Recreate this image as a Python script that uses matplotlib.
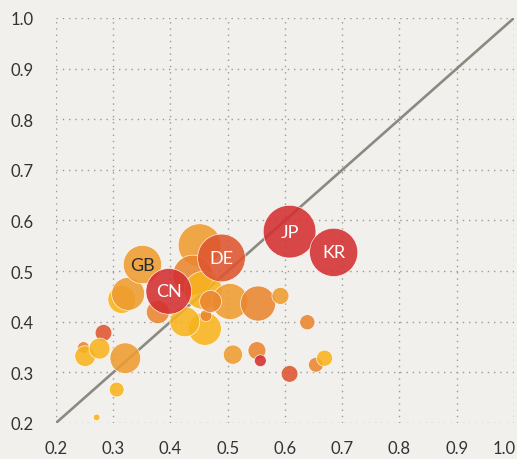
import matplotlib.pyplot as plt
import matplotlib.transforms as mtransforms
import numpy as np

plt.rcParams['font.family'] = ['Lato', 'DejaVu Sans']

# bubble data: x, y, size (area units) and colour group
codes = ['', '', '', '', '', '', '', '', '', '', '', '', '', '', '', '', '', '', '', '', '', '', '', '', '', '', '',
         'GB', 'DE', 'CN', 'JP', 'KR']
xs = [0.451, 0.439, 0.457, 0.504, 0.553, 0.592, 0.460, 0.425, 0.378, 0.462, 0.315, 0.326, 0.283, 0.248, 0.251,
      0.276, 0.321, 0.306, 0.271, 0.639, 0.509, 0.551, 0.557, 0.608, 0.654, 0.669, 0.470,
      0.351, 0.489, 0.397, 0.608, 0.685]
ys = [0.551, 0.492, 0.462, 0.440, 0.436, 0.451, 0.386, 0.400, 0.419, 0.412, 0.444, 0.455, 0.378, 0.349, 0.332,
      0.347, 0.328, 0.266, 0.211, 0.399, 0.335, 0.343, 0.323, 0.297, 0.315, 0.328, 0.440,
      0.513, 0.526, 0.460, 0.578, 0.537]
sizes = [18.5, 16.0, 14.4, 13.0, 12.3, 2.9, 10.9, 9.0, 5.3, 1.4, 7.8, 10.9, 2.8, 1.4, 4.3,
         4.4, 9.4, 2.2, 0.45, 2.3, 3.7, 3.2, 1.4, 2.8, 2.2, 2.6, 4.8,
         14.7, 22.8, 20.9, 27.8, 23.3]
groups = [3, 2, 4, 3, 2, 3, 4, 4, 2, 2, 4, 3, 1, 2, 4,
          4, 3, 4, 4, 2, 3, 2, 0, 1, 2, 4, 2,
          3, 1, 0, 0, 0]

palette = ['#d42f31', '#de5530', '#ea8630', '#ef9c30', '#f8b41e']
ticks = [0.2, 0.3, 0.4, 0.5, 0.6, 0.7, 0.8, 0.9, 1.0]

fig = plt.figure(figsize=(5.17, 4.6), dpi=100)
fig.patch.set_facecolor('#f1f0ec')
ax = fig.add_axes([0.1083, 0.0783, 0.8859, 0.8804])
ax.set_facecolor('#f1f0ec')

# diagonal reference line
ax.plot([0.2, 1.0], [0.2, 1.0], color='#8a8a80', lw=1.9, zorder=2, solid_capstyle='butt')

cols = [palette[g] for g in groups]
ax.scatter(xs, ys, s=np.array(sizes) * 51.84, c=cols, alpha=0.88,
           edgecolors=(1, 1, 1, 0.25), linewidths=0.5, zorder=3)

for x, y, code, g in zip(xs, ys, codes, groups):
    if code:
        ax.text(x, y, code, ha='center', va='center', fontsize=13,
                color='#2a2a2a' if g == 3 else 'white', zorder=4)

ax.set_xlim(0.2, 1.0)
ax.set_ylim(0.2, 1.0)
ax.set_xticks(ticks)
ax.set_yticks(ticks)
ax.set_xticklabels([f'{t:.1f}' for t in ticks])
ax.set_yticklabels([f'{t:.1f}' for t in ticks])
ax.grid(True, color='#999999', linestyle=(0, (1, 3.5)), linewidth=1.0, zorder=1)
ax.set_axisbelow(True)
for sp in ax.spines.values():
    sp.set_visible(False)
ax.tick_params(length=0, labelsize=12, labelcolor='#333333')
ax.tick_params(axis='x', pad=12)
ax.tick_params(axis='y', pad=16)

# nudge the last x label so it stays inside the figure
last = ax.get_xticklabels()[-1]
last.set_transform(last.get_transform() + mtransforms.ScaledTranslation(-10 / 100, 0, fig.dpi_scale_trans))

fig.savefig('out.png', dpi=100, facecolor=fig.get_facecolor())
